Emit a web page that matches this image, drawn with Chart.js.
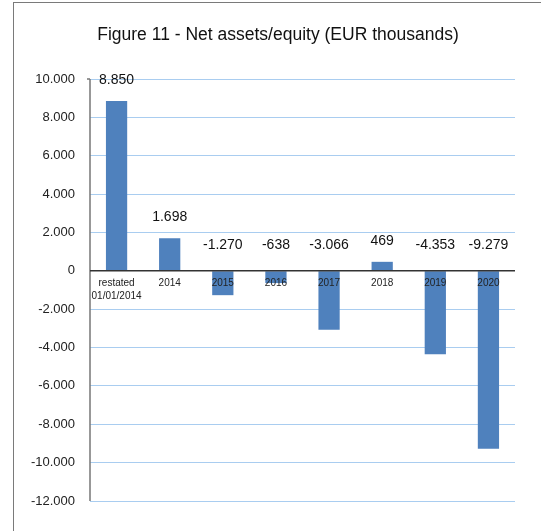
<!DOCTYPE html>
<html>
<head>
<meta charset="utf-8">
<script src="https://cdn.jsdelivr.net/npm/chart.js@4"></script>
<style>
  html, body { margin: 0; padding: 0; background: #fff; overflow: hidden; }
  #frame { position: absolute; left: 13px; top: 2px; width: 700px; height: 700px; border: 1.5px solid #7a7a7a; box-sizing: border-box; }
  #wrap { position: absolute; left: 0; top: 0; width: 541px; height: 531px; }
</style>
</head>
<body>
<div id="frame"></div>
<div id="wrap"><canvas id="netChart"></canvas></div>
<script>
const categories = [['restated', '01/01/2014'], '2014', '2015', '2016', '2017', '2018', '2019', '2020'];
const netAssets = [8850, 1698, -1270, -638, -3066, 469, -4353, -9279];
const yTicks = [-12000, -10000, -8000, -6000, -4000, -2000, 0, 2000, 4000, 6000, 8000, 10000];

const fmt = v => v.toLocaleString('de-DE');
const font = '"Liberation Sans", Arial, sans-serif';

// labels, zero line and category names drawn on top of the bars (as in the original)
const overlay = {
  id: 'overlay',
  afterDatasetsDraw(chart) {
    const { ctx, chartArea, scales } = chart;
    const x = scales.x, y = scales.y;
    const zero = y.getPixelForValue(0);
    ctx.save();
    // y axis line
    ctx.strokeStyle = '#777';
    ctx.lineWidth = 1.5;
    ctx.beginPath();
    ctx.moveTo(chartArea.left, chartArea.top);
    ctx.lineTo(chartArea.left, chartArea.bottom);
    ctx.moveTo(chartArea.left - 3, chartArea.top);
    ctx.lineTo(chartArea.left, chartArea.top);
    ctx.stroke();
    // zero line
    ctx.strokeStyle = '#333';
    ctx.lineWidth = 1.5;
    ctx.beginPath();
    ctx.moveTo(chartArea.left, zero);
    ctx.lineTo(chartArea.right, zero);
    ctx.stroke();

    // category labels
    ctx.fillStyle = '#222';
    ctx.font = '10px ' + font;
    ctx.textAlign = 'center';
    ctx.textBaseline = 'middle';
    categories.forEach((c, i) => {
      const cx = x.getPixelForValue(i);
      const lines = Array.isArray(c) ? c : [c];
      lines.forEach((l, j) => ctx.fillText(l, cx, zero + 12 + j * 13));
    });

    // value labels
    ctx.font = '14px ' + font;
    ctx.fillStyle = '#111';
    const meta = chart.getDatasetMeta(0);
    meta.data.forEach((bar, i) => {
      const v = netAssets[i];
      const ty = v >= 0 ? bar.y - 21 : zero - 26;
      ctx.fillText(fmt(v), bar.x, ty);
    });
    ctx.restore();
  }
};

new Chart(document.getElementById('netChart'), {
  type: 'bar',
  data: {
    labels: categories,
    datasets: [{
      data: netAssets,
      backgroundColor: '#4f81bd',
      borderWidth: 0,
      barPercentage: 0.4,
      categoryPercentage: 1
    }]
  },
  options: {
    responsive: true,
    maintainAspectRatio: false,
    animation: false,
    layout: { padding: { left: 15, right: 0, top: 0, bottom: 30 } },
    plugins: {
      legend: { display: false },
      tooltip: { enabled: false },
      title: {
        display: true,
        text: 'Figure 11 - Net assets/equity (EUR thousands)',
        color: '#111',
        font: { family: font, size: 17.5, weight: 'normal', lineHeight: 1.2 },
        padding: { top: 25, bottom: 33 }
      }
    },
    scales: {
      x: {
        display: false,
        grid: { display: false }
      },
      y: {
        min: -12000,
        max: 10000,
        afterBuildTicks(scale) { scale.ticks = yTicks.map(v => ({ value: v })); },
        afterFit(scale) { scale.width = 75; },
        grid: { color: '#a9cdf0', lineWidth: 1, drawTicks: false },
        border: { display: false },
        ticks: {
          padding: 15,
          color: '#222',
          font: { family: font, size: 13 },
          callback: v => fmt(v)
        }
      },
      // empty right axis, only keeps the white margin right of the plot
      yRight: {
        position: 'right',
        display: true,
        afterFit(scale) { scale.width = 26; },
        grid: { display: false },
        border: { display: false },
        ticks: { display: false }
      }
    }
  },
  plugins: [overlay]
});
</script>
</body>
</html>
